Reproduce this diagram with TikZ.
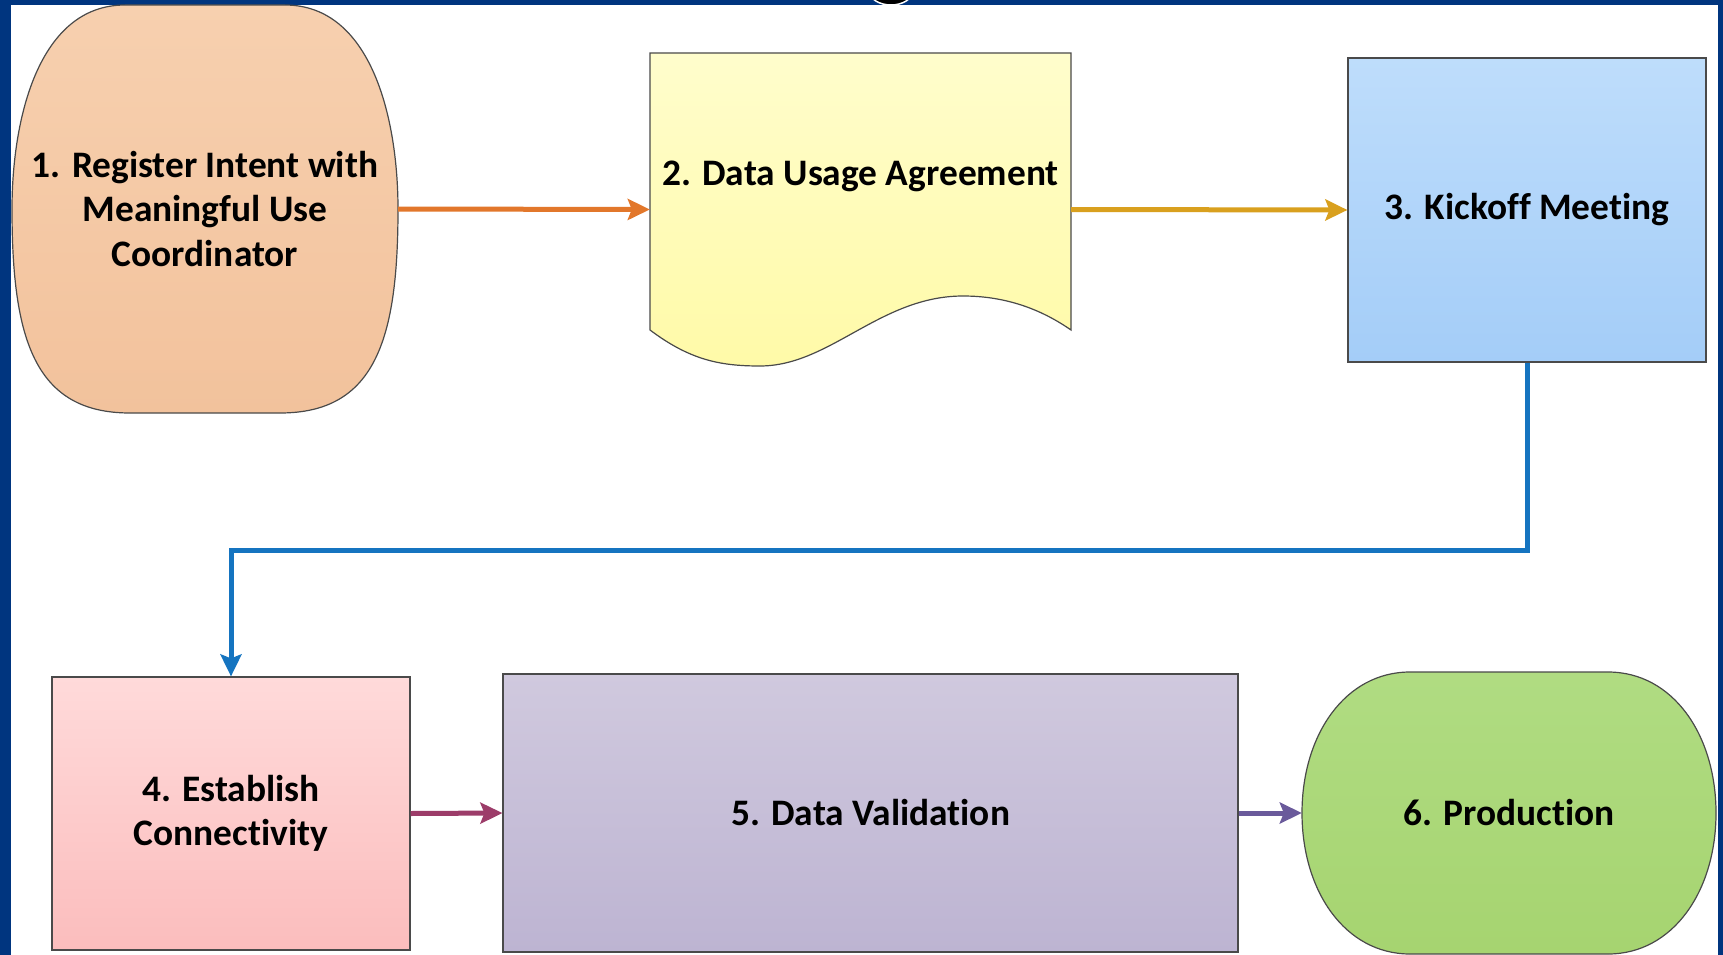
\documentclass[tikz,border=0pt]{standalone}
\usepackage{fontspec}
\setmainfont{Carlito}[RawFeature=-liga]
\usetikzlibrary{arrows.meta,calc}

\definecolor{framebl}{HTML}{00357F}
\definecolor{edge}{HTML}{4A4A4A}
\definecolor{peachT}{HTML}{F7D0AF}
\definecolor{peachB}{HTML}{F2C29C}
\definecolor{yellowT}{HTML}{FFFDCC}
\definecolor{yellowB}{HTML}{FFFAA8}
\definecolor{blueT}{HTML}{BEDDFB}
\definecolor{blueB}{HTML}{A4CDF8}
\definecolor{pinkT}{HTML}{FFDADA}
\definecolor{pinkB}{HTML}{FBBDBD}
\definecolor{lilacT}{HTML}{D0C9DE}
\definecolor{lilacB}{HTML}{BDB4D2}
\definecolor{greenT}{HTML}{B0DC82}
\definecolor{greenB}{HTML}{A6D470}
\definecolor{arrOrange}{HTML}{E2772B}
\definecolor{arrGold}{HTML}{D9A01E}
\definecolor{arrBlue}{HTML}{1574C0}
\definecolor{arrMaroon}{HTML}{9C3C69}
\definecolor{arrPurple}{HTML}{6A5A9B}

\begin{document}
\begin{tikzpicture}[x=1pt,y=-1pt,
  outline/.style={draw=edge, line width=1.2pt},
  label/.style={font=\bfseries\fontsize{37.4}{44.5}\selectfont, text=black, align=center},
  box/.style={outline, label, rectangle, inner sep=0pt},
  ghost/.style={rectangle, inner sep=0pt, label},
  flow/.style={line width=5pt, -{Stealth[length=22pt,width=21pt,inset=4pt]}}
]
\useasboundingbox (0,0) rectangle (1723,955);
\fill[white] (0,0) rectangle (1723,955);

% frame bands
\fill[framebl] (0,0) rectangle (11,955);
\fill[framebl] (0,0) rectangle (1723,5);
\fill[framebl] (1718,0) rectangle (1723,955);
\begin{scope}
  \clip (0,0) rectangle (1723,6);
  \draw[white, line width=1.5pt, fill=black] (891,-8) ellipse [x radius=21pt, y radius=13pt];
\end{scope}

% step 1: tall rounded shape with flat top and bottom
\path[outline, top color=peachT, bottom color=peachB]
  (125,5) -- (285,5)
  .. controls (372,5) and (398,120) .. (398,209)
  .. controls (398,340) and (375,413) .. (280,413)
  -- (130,413)
  .. controls (35,413) and (12,340) .. (12,209)
  .. controls (12,120) and (38,5) .. (125,5) -- cycle;
\node[ghost, minimum width=386pt, minimum height=408pt] (n1) at (205,209)
  {1. Register Intent with\\Meaningful Use\\Coordinator};

% step 2: document shape
\path[outline, top color=yellowT, bottom color=yellowB]
  (650,53) -- (1071,53) -- (1071,330)
  .. controls (1045,312) and (1010,296) .. (963,296)
  .. controls (880,296) and (830,366) .. (760,366)
  .. controls (720,366) and (690,360) .. (650,330) -- cycle;
\node[ghost, minimum width=421pt, minimum height=313pt] (n2) at (860.5,209.5) {};
\node[label] (t2) at (860.5,176) {2. Data Usage Agreement};

% step 3
\node[box, minimum width=358pt, minimum height=304pt, top color=blueT, bottom color=blueB]
  (n3) at (1527,210) {3. Kickoff Meeting};

% step 4
\node[box, minimum width=358pt, minimum height=273pt, top color=pinkT, bottom color=pinkB]
  (n4) at (231,813.5) {4. Establish\\Connectivity};

% step 5
\node[box, minimum width=735pt, minimum height=278pt, top color=lilacT, bottom color=lilacB]
  (n5) at (870.5,813) {5. Data Validation};

% step 6: rounded terminal shape with flat top and bottom
\path[outline, top color=greenT, bottom color=greenB]
  (1410,672) -- (1608,672)
  .. controls (1673,672) and (1716,735) .. (1716,813)
  .. controls (1716,891) and (1673,954) .. (1608,954)
  -- (1410,954)
  .. controls (1345,954) and (1302,891) .. (1302,813)
  .. controls (1302,735) and (1345,672) .. (1410,672) -- cycle;
\node[ghost, minimum width=414pt, minimum height=282pt] (n6) at (1509,813) {6. Production};

% connectors
\draw[flow, arrOrange] (n1.east) -- (n2.west);
\draw[flow, arrGold] (n2.east) -- (n3.west);
\draw[flow, arrBlue, line join=miter] (n3.south) -- ++(0,188) -| (n4.north);
\draw[flow, arrMaroon] (n4.east) -- (n5.west);
\draw[flow, arrPurple] (n5.east) -- (n6.west);
\end{tikzpicture}
\end{document}
